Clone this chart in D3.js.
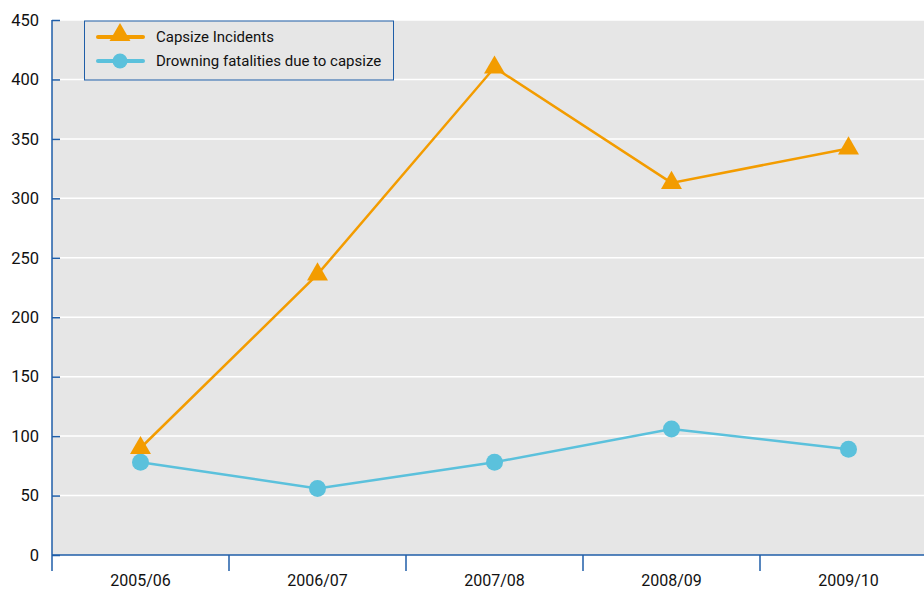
<!DOCTYPE html>
<html>
<head>
<meta charset="utf-8">
<script src="https://cdn.jsdelivr.net/npm/d3@7"></script>
<style>
  body { margin: 0; background: #fff; }
  svg text { font-family: Roboto, "DejaVu Sans", sans-serif; fill: #111; }
</style>
</head>
<body>
<div id="chart"></div>
<script>
'use strict';

const seasons = ["2005/06", "2006/07", "2007/08", "2008/09", "2009/10"];
const capsize_incidents = [90, 236, 410, 313, 342];
const drowning_fatalities = [78, 56, 78, 106, 89];
const y_ticks = [0, 50, 100, 150, 200, 250, 300, 350, 400, 450];

const width = 924, height = 591;
const plot_left = 52, plot_top = 20, plot_bottom = 555;
const band = 177;

const svg = d3.select("#chart").append("svg")
  .attr("width", width)
  .attr("height", height);

const x = d3.scaleBand()
  .domain(seasons)
  .range([plot_left, plot_left + band * seasons.length]);

const y = d3.scaleLinear()
  .domain([0, 450])
  .range([plot_bottom, plot_top]);

// plot background
svg.append("rect")
  .attr("x", plot_left).attr("y", plot_top)
  .attr("width", width - plot_left).attr("height", plot_bottom - plot_top)
  .attr("fill", "#e6e6e6");

// gridlines
svg.append("g")
  .selectAll("line")
  .data(y_ticks.filter(d => d > 0))
  .enter().append("line")
  .attr("x1", plot_left).attr("x2", width)
  .attr("y1", d => y(d)).attr("y2", d => y(d))
  .attr("stroke", "#fff")
  .attr("stroke-width", 1.5);

const axis_colour = "#1f5ea8";

// y axis
const yAxis = svg.append("g")
  .attr("transform", `translate(${plot_left},0)`)
  .call(d3.axisRight(y).tickValues(y_ticks).tickSize(8).tickFormat(d3.format("d")));
yAxis.select(".domain").attr("stroke", axis_colour).attr("stroke-width", 1.5).attr("d", `M0,${plot_top}V${plot_bottom}`);
yAxis.selectAll(".tick line").attr("stroke", axis_colour).attr("stroke-width", 1.5);
yAxis.selectAll(".tick text")
  .attr("x", -13).attr("text-anchor", "end")
  .attr("font-size", 16.5).attr("font-weight", 400)
  .attr("fill", "#111");

// x axis
svg.append("line")
  .attr("x1", plot_left).attr("x2", width)
  .attr("y1", plot_bottom).attr("y2", plot_bottom)
  .attr("stroke", axis_colour).attr("stroke-width", 1.5);
svg.append("g")
  .selectAll("line")
  .data(seasons)
  .enter().append("line")
  .attr("x1", d => x(d)).attr("x2", d => x(d))
  .attr("y1", plot_bottom).attr("y2", plot_bottom + 16)
  .attr("stroke", axis_colour).attr("stroke-width", 1.5);
svg.append("g")
  .selectAll("text")
  .data(seasons)
  .enter().append("text")
  .attr("x", d => x(d) + x.bandwidth() / 2)
  .attr("y", 586)
  .attr("text-anchor", "middle")
  .attr("font-size", 16)
  .text(d => d);

const orange = "#f39c00";
const blue = "#5bc1dc";

const line = d3.line()
  .x((d, i) => x(seasons[i]) + x.bandwidth() / 2)
  .y(d => y(d));

svg.append("path")
  .datum(drowning_fatalities)
  .attr("d", line)
  .attr("fill", "none").attr("stroke", blue).attr("stroke-width", 2.5);

svg.append("path")
  .datum(capsize_incidents)
  .attr("d", line)
  .attr("fill", "none").attr("stroke", orange).attr("stroke-width", 2.5);

svg.append("g")
  .selectAll("circle")
  .data(drowning_fatalities)
  .enter().append("circle")
  .attr("cx", (d, i) => x(seasons[i]) + x.bandwidth() / 2)
  .attr("cy", d => y(d))
  .attr("r", 8.5)
  .attr("fill", blue);

const tri = d3.symbol().type(d3.symbolTriangle).size(190);
svg.append("g")
  .selectAll("path")
  .data(capsize_incidents)
  .enter().append("path")
  .attr("d", tri)
  .attr("transform", (d, i) => `translate(${x(seasons[i]) + x.bandwidth() / 2},${y(d)})`)
  .attr("fill", orange);

// legend
const legend = svg.append("g");
legend.append("rect")
  .attr("x", 84.5).attr("y", 21)
  .attr("width", 309).attr("height", 59)
  .attr("fill", "#e6e6e6")
  .attr("stroke", axis_colour).attr("stroke-width", 1);

const legend_items = [
  { name: "Capsize Incidents", colour: orange, shape: "triangle" },
  { name: "Drowning fatalities due to capsize", colour: blue, shape: "circle" }
];

legend_items.forEach(function(item, i) {
  const ly = 37 + i * 24;
  legend.append("line")
    .attr("x1", 98).attr("x2", 143)
    .attr("y1", ly).attr("y2", ly)
    .attr("stroke", item.colour).attr("stroke-width", 4)
    .attr("stroke-linecap", "round");
  if (item.shape === "triangle") {
    legend.append("path")
      .attr("d", tri)
      .attr("transform", `translate(120,${ly - 2})`)
      .attr("fill", item.colour);
  } else {
    legend.append("circle")
      .attr("cx", 120).attr("cy", ly).attr("r", 7.5)
      .attr("fill", item.colour);
  }
  legend.append("text")
    .attr("x", 156).attr("y", ly + 5)
    .attr("font-size", 15)
    .text(item.name);
});
</script>
</body>
</html>
